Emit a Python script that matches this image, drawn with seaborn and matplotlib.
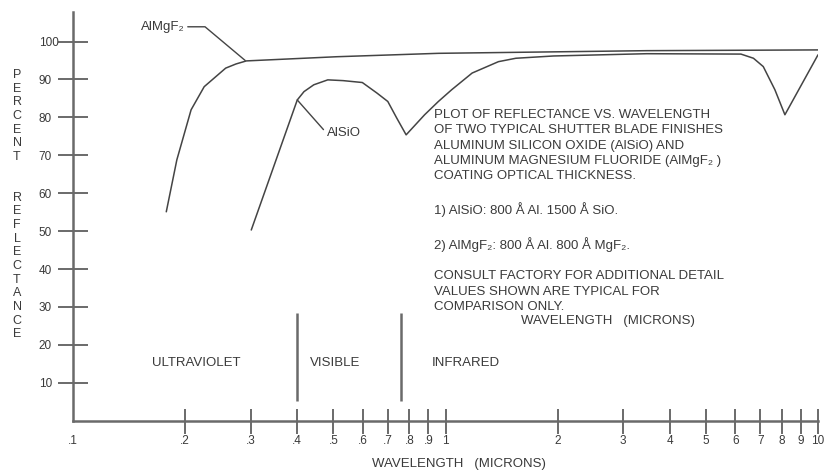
import numpy as np
import pandas as pd
import matplotlib
matplotlib.use("Agg")
import matplotlib.pyplot as plt
import seaborn as sns

# ---------------- data ----------------
almgf2_wavelength = [0.178, 0.190, 0.2075, 0.225, 0.257, 0.274, 0.292, 0.51, 0.957, 3.47, 10.0]
almgf2_reflectance = [55.1, 68.8, 82.0, 88.1, 93.0, 94.1, 94.9, 96.0, 96.9, 97.6, 97.8]

alsio_wavelength = [0.301, 0.40, 0.417, 0.443, 0.483, 0.531, 0.598, 0.655, 0.70, 0.740, 0.784,
                    0.879, 0.957, 1.039, 1.179, 1.387, 1.545, 1.95, 3.47, 6.21, 6.71, 7.13,
                    7.66, 8.15, 10.0]
alsio_reflectance = [50.3, 84.6, 86.8, 88.6, 89.9, 89.7, 89.2, 86.4, 84.2, 79.8, 75.4,
                     80.7, 84.2, 87.3, 91.7, 94.7, 95.6, 96.2, 96.8, 96.7, 95.6, 93.4,
                     87.3, 80.7, 96.5]

x_ticks = [0.1, 0.2, 0.3, 0.4, 0.5, 0.6, 0.7, 0.8, 0.9, 1, 2, 3, 4, 5, 6, 7, 8, 9, 10]
x_tick_labels = ['.1', '.2', '.3', '.4', '.5', '.6', '.7', '.8', '.9', '1',
                 '2', '3', '4', '5', '6', '7', '8', '9', '10']
y_ticks = [10, 20, 30, 40, 50, 60, 70, 80, 90, 100]

region_names = ['ULTRAVIOLET', 'VISIBLE', 'INFRARED']
region_centers = [0.2144, 0.504, 1.132]
region_bounds = [0.4, 0.758]

note_lines = [
    "PLOT OF REFLECTANCE VS. WAVELENGTH",
    "OF TWO TYPICAL SHUTTER BLADE FINISHES",
    "ALUMINUM SILICON OXIDE (AlSiO) AND",
    "ALUMINUM MAGNESIUM FLUORIDE (AlMgF\u2082 )",
    "COATING OPTICAL THICKNESS.",
    "",
    "1) AlSiO: 800 \u00c5 Al. 1500 \u00c5 SiO.",
    "",
    "2) AlMgF\u2082: 800 \u00c5 Al. 800 \u00c5 MgF\u2082.",
    "",
    "CONSULT FACTORY FOR ADDITIONAL DETAIL",
    "VALUES SHOWN ARE TYPICAL FOR",
    "COMPARISON ONLY.",
]

# ---------------- styling ----------------
sns.set_theme(style="white")
plt.rcParams['font.family'] = ['Liberation Sans', 'DejaVu Sans']

INK = '#3a3a3a'
AXC = '#6a6a6a'
W, H = 833, 473

fig = plt.figure(figsize=(W / 100, H / 100), dpi=100, facecolor='white')
ax = fig.add_axes([73 / W, (H - 420.7) / H, (818 - 73) / W, (420.7 - 12) / H])
ax.set_facecolor('white')

df = pd.concat([
    pd.DataFrame({'wavelength': almgf2_wavelength, 'reflectance': almgf2_reflectance,
                  'finish': 'AlMgF2'}),
    pd.DataFrame({'wavelength': alsio_wavelength, 'reflectance': alsio_reflectance,
                  'finish': 'AlSiO'}),
])
sns.lineplot(data=df, x='wavelength', y='reflectance', hue='finish',
             palette={'AlMgF2': '#444444', 'AlSiO': '#444444'},
             estimator=None, sort=False, legend=False, linewidth=1.1, ax=ax)

ax.set_xscale('log')
ax.set_xlim(0.1, 10)
ax.set_ylim(0, 107.8)
ax.set_xlabel('')
ax.set_ylabel('')

for s in ['top', 'right']:
    ax.spines[s].set_visible(False)
for s in ['left', 'bottom']:
    ax.spines[s].set_color(AXC)
    ax.spines[s].set_linewidth(1.8)

ax.minorticks_off()
ax.set_xticks(x_ticks)
ax.set_xticklabels(x_tick_labels)
ax.set_yticks(y_ticks)
ax.set_yticklabels([str(v) for v in y_ticks])
ax.tick_params(axis='x', direction='inout', length=18, width=1.4, color=AXC,
               labelsize=8.5, labelcolor=INK, pad=1, bottom=True)
ax.tick_params(axis='y', direction='inout', length=22, width=1.4, color=AXC,
               labelsize=8.5, labelcolor=INK, pad=13.6, left=True)
for lbl in ax.get_yticklabels():
    lbl.set_horizontalalignment('left')
ax.xaxis.get_major_ticks()[0].tick1line.set_visible(False)

# region dividers and names
ax.vlines(region_bounds, 5.3, 28.4, color=AXC, linewidth=1.8)
for name, xc in zip(region_names, region_centers):
    ax.text(xc, 15.1, name, ha='center', va='center', fontsize=9.5, color=INK)

# curve annotations
ax.annotate('AlMgF\u2082', xy=(0.29, 95.0), xytext=(0.152, 103.9), textcoords='data',
            ha='left', va='center', fontsize=9.5, color=INK,
            arrowprops=dict(arrowstyle='-', color='#444444', lw=1.0, relpos=(1, 0.5),
                            shrinkA=0, shrinkB=0,
                            connectionstyle='angle,angleA=0,angleB=-40,rad=0'))
ax.annotate('AlSiO', xy=(0.40, 84.6), xytext=(0.48, 75.8), textcoords='data',
            ha='left', va='center', fontsize=9.5, color=INK,
            arrowprops=dict(arrowstyle='-', color='#444444', lw=1.0, relpos=(0, 0.5),
                            shrinkA=0, shrinkB=0))

# note block
fig.text(434 / W, 1 - 109 / H, "\n".join(note_lines), ha='left', va='top',
         fontsize=9.5, color=INK, linespacing=1.37)
fig.text(608 / W, 1 - 321 / H, "WAVELENGTH   (MICRONS)", ha='center', va='center',
         fontsize=9.5, color=INK)

# axis titles
fig.text(459 / W, 1 - 464 / H, "WAVELENGTH   (MICRONS)", ha='center', va='center',
         fontsize=9.5, color=INK)
ylabel_letters = list("PERCENT") + ["", ""] + list("REFLECTANCE")
fig.text(17 / W, 1 - 69 / H, "\n".join(ylabel_letters), ha='center', va='top',
         fontsize=9, color=INK, linespacing=1.183)

fig.savefig('out.png', dpi=100, facecolor='white')
